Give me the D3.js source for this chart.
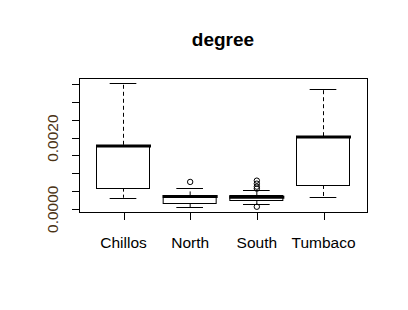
<!DOCTYPE html>
<html>
<head>
<meta charset="utf-8">
<script src="https://cdn.jsdelivr.net/npm/d3@7"></script>
<style>
  html, body { margin: 0; padding: 0; background: #fff; }
  svg { display: block; font-family: "Liberation Sans", Arial, sans-serif; }
  .box-chart__axis path, .box-chart__axis line { stroke: #000; shape-rendering: crispEdges; }
  .box-chart__axis text { fill: #000; font-size: 15.5px; }
  .box-chart__axis--y text { fill: #4a3214; }
</style>
</head>
<body>
<div id="chart"></div>
<script>
const categories = ['Chillos', 'North', 'South', 'Tumbaco'];
const whiskerLow = [0.000310, 0.000048, 0.000133, 0.000339];
const quartileLow = [0.000593, 0.000161, 0.000246, 0.000669];
const medians = [0.001764, 0.000342, 0.000325, 0.002018];
const quartileHigh = [0.001798, 0.000375, 0.000375, 0.002040];
const whiskerHigh = [0.003537, 0.000584, 0.000517, 0.003378];
const outliers = [[], [0.000754], [0.000790, 0.000706, 0.000621, 0.000565, 0.000056], []];

const yTicks = [0, 0.0005, 0.0010, 0.0015, 0.0020, 0.0025, 0.0030, 0.0035];
const yTickLabels = ['0.0000', '', '', '', '0.0020', '', '', ''];
const title = 'degree';

const width = 408;
const height = 310;
const margin = { top: 78, right: 41, bottom: 98, left: 79 };
const innerWidth = width - margin.left - margin.right;
const innerHeight = height - margin.top - margin.bottom;

const svg = d3.select('#chart').append('svg')
  .attr('width', width)
  .attr('height', height);

svg.append('rect').attr('width', width).attr('height', height).attr('fill', '#fff');

const plot = svg.append('g').attr('transform', `translate(${margin.left},${margin.top})`);

// R style limits: data range padded by 4% on each side
const allValues = whiskerLow.concat(whiskerHigh, outliers.flat());
const [lo, hi] = d3.extent(allValues);
const pad = (hi - lo) * 0.04;

const y = d3.scaleLinear().domain([lo - pad, hi + pad]).range([innerHeight, 0]);
const x = d3.scalePoint().domain(categories).range([0, innerWidth]).padding(0.66);
const boxWidth = x.step() * 0.8;
const capWidth = boxWidth * 0.5;

const boxes = categories.map((name, i) => ({
  name,
  low: whiskerLow[i],
  q1: quartileLow[i],
  median: medians[i],
  q3: quartileHigh[i],
  high: whiskerHigh[i],
  outliers: outliers[i]
}));

const px = (v) => Math.round(v) + 0.5;

const group = plot.selectAll('g.box-chart__box').data(boxes).join('g')
  .attr('class', 'box-chart__box')
  .attr('transform', (d) => `translate(${x(d.name)},0)`);

group.append('line')
  .attr('x1', 0.5).attr('x2', 0.5)
  .attr('y1', (d) => y(d.q3)).attr('y2', (d) => y(d.high))
  .attr('stroke', '#000').attr('stroke-dasharray', '4,3');

group.append('line')
  .attr('x1', 0.5).attr('x2', 0.5)
  .attr('y1', (d) => y(d.q1)).attr('y2', (d) => y(d.low))
  .attr('stroke', '#000').attr('stroke-dasharray', '4,3');

group.append('line')
  .attr('x1', -capWidth / 2).attr('x2', capWidth / 2)
  .attr('y1', (d) => px(y(d.high))).attr('y2', (d) => px(y(d.high)))
  .attr('stroke', '#000');

group.append('line')
  .attr('x1', -capWidth / 2).attr('x2', capWidth / 2)
  .attr('y1', (d) => px(y(d.low))).attr('y2', (d) => px(y(d.low)))
  .attr('stroke', '#000');

group.append('rect')
  .attr('x', -Math.round(boxWidth / 2) + 0.5)
  .attr('width', Math.round(boxWidth))
  .attr('y', (d) => px(y(d.q3)))
  .attr('height', (d) => Math.round(y(d.q1) - y(d.q3)))
  .attr('fill', '#fff')
  .attr('stroke', '#000');

group.append('line')
  .attr('x1', -Math.round(boxWidth / 2)).attr('x2', Math.round(boxWidth / 2) + 1)
  .attr('y1', (d) => y(d.median)).attr('y2', (d) => y(d.median))
  .attr('stroke', '#000').attr('stroke-width', 3);

group.selectAll('circle').data((d) => d.outliers).join('circle')
  .attr('cx', 0.5)
  .attr('cy', (v) => y(v))
  .attr('r', 2.7)
  .attr('fill', 'none')
  .attr('stroke', '#000');

// frame
plot.append('rect')
  .attr('x', 0.5).attr('y', 0.5)
  .attr('width', innerWidth).attr('height', innerHeight)
  .attr('fill', 'none').attr('stroke', '#000');

const axisY = plot.append('g').attr('class', 'box-chart__axis box-chart__axis--y')
  .call(d3.axisLeft(y).tickValues(yTicks).tickSize(8).tickSizeOuter(0)
    .tickFormat((d, i) => yTickLabels[i]));
axisY.select('.domain')
  .attr('d', `M0.5,${px(y(yTicks[0]))}V${px(y(yTicks[yTicks.length - 1]))}`);
axisY.selectAll('.tick line').attr('x1', 0.5).attr('x2', -7.5);
// R drops the labels that would overlap, so only some ticks carry text
axisY.selectAll('.tick text').filter((d, i) => !yTickLabels[i]).remove();
axisY.selectAll('.tick text')
  .attr('transform', 'rotate(-90)')
  .attr('x', 0)
  .attr('y', -21)
  .attr('dy', 0)
  .attr('text-anchor', 'middle');

const axisX = plot.append('g').attr('class', 'box-chart__axis box-chart__axis--x')
  .attr('transform', `translate(0,${innerHeight})`)
  .call(d3.axisBottom(x).tickSize(8).tickSizeOuter(0));
axisX.select('.domain')
  .attr('d', `M${x(categories[0])},0.5H${x(categories[categories.length - 1])}`);
axisX.selectAll('.tick line').attr('x1', 0.5).attr('x2', 0.5);
axisX.selectAll('.tick text').attr('y', 36).attr('dy', 0);

svg.append('text')
  .attr('x', margin.left + innerWidth / 2)
  .attr('y', 46)
  .attr('text-anchor', 'middle')
  .attr('font-weight', 'bold')
  .attr('font-size', 19)
  .text(title);
</script>
</body>
</html>
